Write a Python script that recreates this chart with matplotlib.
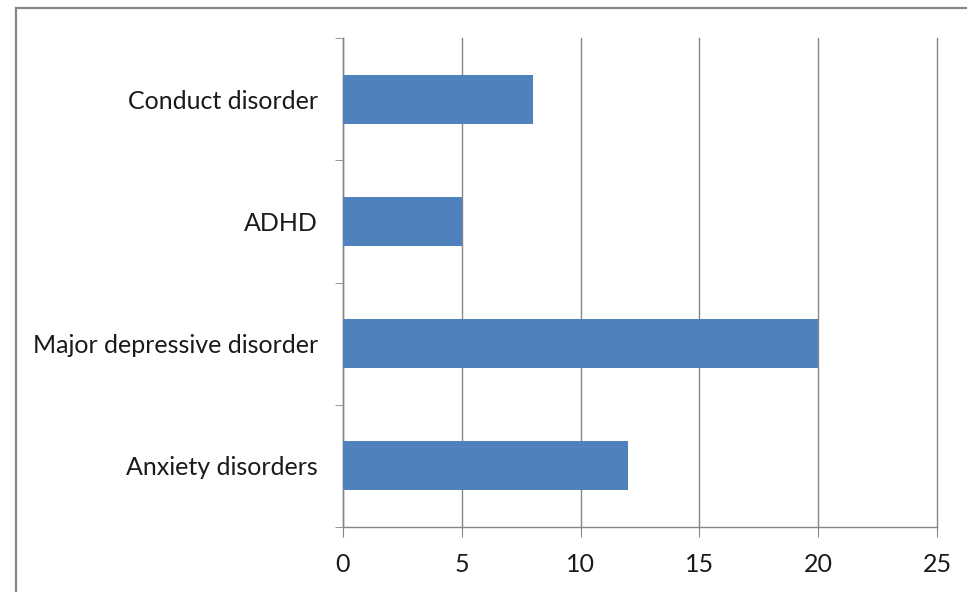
import matplotlib.pyplot as plt
from matplotlib.lines import Line2D
import numpy as np

categories = ["Anxiety disorders", "Major depressive disorder", "ADHD", "Conduct disorder"]
values = [12, 20, 5, 8]
x_ticks = [0, 5, 10, 15, 20, 25]

plt.rcParams['font.family'] = ['Lato', 'DejaVu Sans']

W, H = 967, 592
fig = plt.figure(figsize=(W / 100, H / 100), dpi=100)
ax = fig.add_axes([343 / W, 1 - 527 / H, (937 - 343) / W, (527 - 38) / H])

grey = '#868686'
pos = np.arange(len(categories))
ax.barh(pos, values, height=0.4, color='#4F81BD', zorder=3)

ax.set_xlim(0, 25)
ax.set_ylim(-0.5, len(categories) - 0.5)
ax.set_xticks(x_ticks)
ax.set_yticks(pos)
ax.set_yticklabels(categories)
ax.set_yticks(np.arange(-0.5, len(categories)), minor=True)

ax.grid(axis='x', color=grey, linewidth=1, zorder=0)
for gl in ax.get_xgridlines():
    gl.set_clip_on(False)
for s in ['top', 'right']:
    ax.spines[s].set_visible(False)
for s in ['left', 'bottom']:
    ax.spines[s].set_color(grey)
    ax.spines[s].set_linewidth(1)

ax.tick_params(axis='x', direction='out', length=7, color=grey, labelsize=18,
               pad=12, labelcolor='#1a1a1a')
ax.tick_params(axis='y', which='major', length=0, pad=18, labelsize=18,
               labelcolor='#1a1a1a')
ax.tick_params(axis='y', which='minor', direction='out', length=6, color=grey)

# outer chart border (only left and top visible in the crop)
fig.add_artist(Line2D([15.5 / W, 15.5 / W], [0, 1 - 7.5 / H], transform=fig.transFigure,
                      color='#878787', linewidth=1.6))
fig.add_artist(Line2D([15.5 / W, 1], [1 - 7.5 / H, 1 - 7.5 / H], transform=fig.transFigure,
                      color='#878787', linewidth=1.6))

fig.savefig('out.png', dpi=100)
